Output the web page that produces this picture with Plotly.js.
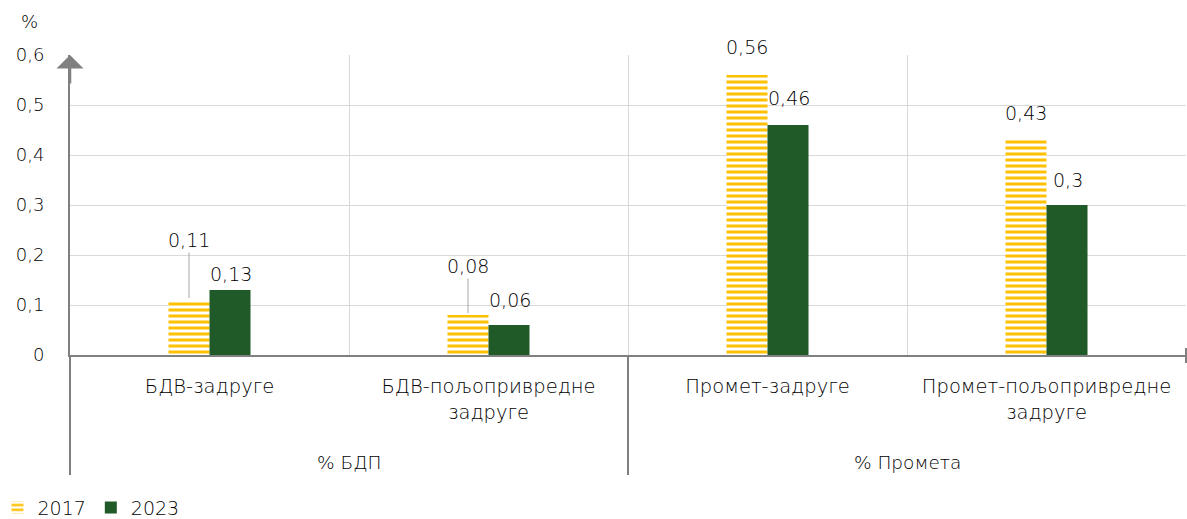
<!DOCTYPE html>
<html>
<head>
<meta charset="utf-8">
<script src="https://cdn.plot.ly/plotly-3.0.1.min.js"></script>
<style>html,body{margin:0;padding:0;background:#fff;}#chart{width:1187px;height:519px;}</style>
</head>
<body>
<div id="chart"></div>
<script>
// ---- data ----
const categories = ["БДВ-задруге", "БДВ-пољопривредне<br>задруге", "Промет-задруге", "Промет-пољопривредне<br>задруге"];
const groups = ["% БДП", "% Промета"];
const series2017 = [0.11, 0.08, 0.56, 0.43];
const series2023 = [0.13, 0.06, 0.46, 0.30];
const seriesNames = ["2017", "2023"];
const yTicks = [0, 0.1, 0.2, 0.3, 0.4, 0.5, 0.6];
const yTickText = ["0", "0,1", "0,2", "0,3", "0,4", "0,5", "0,6"];
const unitLabel = "%";

// ---- styling (label offsets in pixels) ----
const off2017 = [-60, -49, -28, -27];
const leader2017 = [true, true, false, false];
const off2023 = [-16, -25, -27, -25];
const FONT = "DejaVu Sans, sans-serif";
const TXT = "#000000";
const AX = "#808080";

function fmt(v){ return String(v).replace(".", ","); }

const traces = [
  {type:"bar", name:seriesNames[0], x:categories, y:series2017,
   marker:{color:"#ffffff", pattern:{shape:"-", fgcolor:"#FFC000", bgcolor:"#ffffff", fgopacity:1, size:6, solidity:0.5, fillmode:"replace"}, line:{width:0}},
   hoverinfo:"skip"},
  {type:"bar", name:seriesNames[1], x:categories, y:series2023,
   marker:{color:"#215A29", line:{width:0}}, hoverinfo:"skip"}
];

const lblFont = {family:FONT, size:19, color:TXT, weight:300};
const annotations = [];
categories.forEach((c,i)=>{
  const v = series2017[i];
  if (leader2017[i]) {
    annotations.push({x:c, y:v, xref:"x", yref:"y", text:fmt(v), showarrow:true,
      arrowhead:0, arrowwidth:1, arrowcolor:"#a6a6a6", ax:0, ay:off2017[i], standoff:2,
      xshift:-20.5, font:lblFont});
  } else {
    annotations.push({x:c, y:v, xref:"x", yref:"y", text:fmt(v), showarrow:false,
      xshift:-20.5, yshift:-off2017[i], yanchor:"middle", font:lblFont});
  }
  const w = series2023[i];
  annotations.push({x:c, y:w, xref:"x", yref:"y", text:fmt(w), showarrow:false,
    xshift:21.5, yshift:-off2023[i], yanchor:"middle", font:lblFont});
});
const grpFont = {family:FONT, size:18.5, color:TXT, weight:300};
// group labels
annotations.push({x:0.5, y:-0.357, xref:"x", yref:"paper", text:groups[0], showarrow:false, yanchor:"middle", font:grpFont});
annotations.push({x:2.5, y:-0.357, xref:"x", yref:"paper", text:groups[1], showarrow:false, yanchor:"middle", font:grpFont});
// unit label
annotations.push({x:-0.036, y:1.11, xref:"paper", yref:"paper", text:unitLabel, showarrow:false, yanchor:"middle", xanchor:"center", font:{family:FONT, size:18, color:TXT, weight:300}});
// y axis arrow
annotations.push({x:0, y:1, xref:"paper", yref:"paper", text:"", showarrow:true, arrowhead:1, arrowsize:1.8, arrowwidth:2.5, arrowcolor:AX, ax:0, ay:30, standoff:0});

const shapes = [
  {type:"line", xref:"paper", yref:"paper", x0:0, x1:0, y0:0, y1:-0.4, line:{color:AX, width:2}},
  {type:"line", xref:"x", yref:"paper", x0:1.5, x1:1.5, y0:0, y1:-0.4, line:{color:AX, width:2}},
  {type:"line", xref:"paper", yref:"paper", x0:1, x1:1, y0:0.023, y1:-0.027, line:{color:AX, width:2}}
];

const layout = {
  width:1187, height:519,
  margin:{l:70, r:1, t:55, b:164, pad:0, autoexpand:false},
  paper_bgcolor:"#ffffff", plot_bgcolor:"#ffffff",
  separators:",.",
  barmode:"group", bargap:0.706, bargroupgap:0,
  font:{family:FONT, size:17, color:TXT, weight:300},
  showlegend:true,
  legend:{orientation:"h", x:-0.065, xanchor:"left", yref:"container", y:0.022, yanchor:"middle", font:{family:FONT, size:19, color:TXT, weight:300}, itemwidth:30, traceorder:"normal"},
  xaxis:{type:"category", automargin:false, showline:true, linecolor:AX, linewidth:2, ticks:"", tickson:"boundaries",
    showgrid:true, gridcolor:"#d9d9d9", gridwidth:1, ticklabelstandoff:13,
    tickfont:{family:FONT, size:19.5, color:TXT, weight:300}, zeroline:false, fixedrange:true},
  yaxis:{range:[0,0.6], automargin:false, tickvals:yTicks, ticktext:yTickText, showline:true, linecolor:AX, linewidth:2,
    showgrid:true, gridcolor:"#d9d9d9", gridwidth:1, zeroline:false, ticks:"", ticklabelstandoff:20,
    tickfont:{family:FONT, size:18, color:TXT, weight:300}, fixedrange:true},
  annotations:annotations,
  shapes:shapes
};

Plotly.newPlot("chart", traces, layout, {displayModeBar:false, staticPlot:true});
</script>
</body>
</html>
